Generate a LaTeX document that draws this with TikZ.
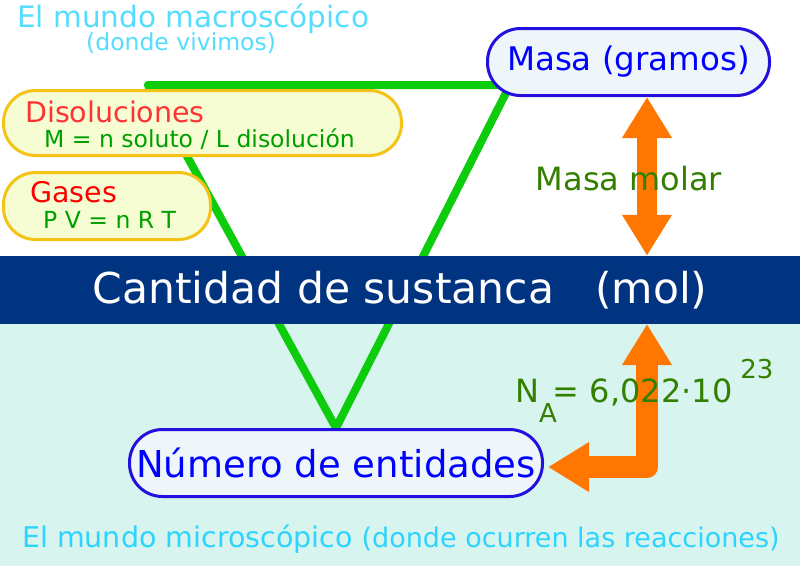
\documentclass[tikz,border=0pt]{standalone}
\usepackage{fontspec}
\setmainfont{DejaVu Sans}
\usetikzlibrary{arrows.meta, positioning}

\definecolor{bandblue}{HTML}{003380}
\definecolor{microbg}{HTML}{D7F4EE}
\definecolor{linegreen}{RGB}{12,204,12}
\definecolor{boxblue}{HTML}{2410DC}
\definecolor{boxfill}{HTML}{EEF6FA}
\definecolor{boxgold}{HTML}{F4C316}
\definecolor{boxyellow}{HTML}{F6FDD3}
\definecolor{arroworange}{HTML}{FF7700}
\definecolor{macrocyan}{HTML}{55DDFF}
\definecolor{microcyan}{HTML}{2DD4FF}
\definecolor{olive}{HTML}{338000}
\definecolor{formgreen}{HTML}{009F00}
\definecolor{lightred}{HTML}{FF3333}

\newcommand{\fsz}[1]{\fontsize{#1}{#1}\selectfont}

\begin{document}
\begin{tikzpicture}[x=1pt, y=-1pt,
    greenline/.style={line width=8pt, draw=linegreen, line cap=round, line join=round},
    bluebox/.style={draw=boxblue, line width=3pt, fill=boxfill, rounded corners=33pt,
        text=blue, inner sep=0pt, minimum height=67pt},
    yellowbox/.style={draw=boxgold, line width=3pt, fill=boxyellow, rounded corners=32pt,
        inner sep=0pt},
    bigarrow/.style={draw=arroworange, line join=round,
        {Triangle[width=47pt,length=41pt]}-{Triangle[width=47pt,length=41pt]}},
    txt/.style={anchor=base west, inner sep=0pt}]
\useasboundingbox (0,0) rectangle (800,566);

% the two worlds
\fill[white] (0,0) rectangle (800,256);
\fill[microbg] (0,256) rectangle (800,566);

% triangle behind everything
\coordinate (tl) at (148,85);
\coordinate (tr) at (510,85);
\coordinate (apex) at (336,428);
\draw[greenline] (apex) -- (tl) -- (tr) -- cycle;

% mol band
\node[fill=bandblue, minimum width=800pt, minimum height=68pt, inner sep=0pt,
    text=white, font=\fsz{42.5}] (band) at (400,290)
    {Cantidad de sustanca\hspace{41pt}(mol)};

% boxes
\node[bluebox, minimum width=282pt, font=\fsz{32.5}] (masa) at (628.5,62) {Masa (gramos)};
\node[bluebox, minimum width=413pt, anchor=north, font=\fsz{37}] (numero) at (apex)
    {Número de entidades};
\node[yellowbox, minimum width=398pt, minimum height=65pt] (disol) at (202.5,123) {};
\node[yellowbox, minimum width=207pt, minimum height=67pt] (gases) at (107,206) {};

% conversions
\coordinate (pb) at (647,324);
\draw[bigarrow, line width=20pt] (masa.south -| pb) -- (band.north -| pb);
\draw[bigarrow, line width=22pt] ([xshift=4pt,yshift=-4pt]numero.east) -| (pb);

% texts
\node[txt, text=macrocyan, font=\fsz{29.5}] (macro) at (17,27) {El mundo macroscópico};
\node[txt, text=macrocyan, font=\fsz{23.5}] (vivimos) at (86,50) {(donde vivimos)};
\node[txt, text=lightred, font=\fsz{28.5}] (disoltit) at (25,122) {Disoluciones};
\node[txt, text=formgreen, font=\fsz{23.5}] (molar) at (44,147) {M = n soluto / L disolución};
\node[txt, text=red, font=\fsz{28.5}] (gasestit) at (30,202) {Gases};
\node[txt, text=formgreen, font=\fsz{23.5}] (ideal) at (43,228) {P V = n R T};
\node[anchor=base, inner sep=0pt, text=olive, font=\fsz{32}] (mmolar) at (629,190) {Masa molar};
\node[txt, text=olive, font=\fsz{32}] (avog) at (515,402)
    {N\raisebox{-20pt}{\fsz{26}A}\kern-4pt= 6,022·10\kern8pt\raisebox{24pt}{\fsz{26}23}};
\node[txt, text=microcyan, font=\fsz{28.5}] (micro) at (22,547)
    {El mundo microscópico {\fsz{27}(donde ocurren las reacciones)}};
\end{tikzpicture}
\end{document}
